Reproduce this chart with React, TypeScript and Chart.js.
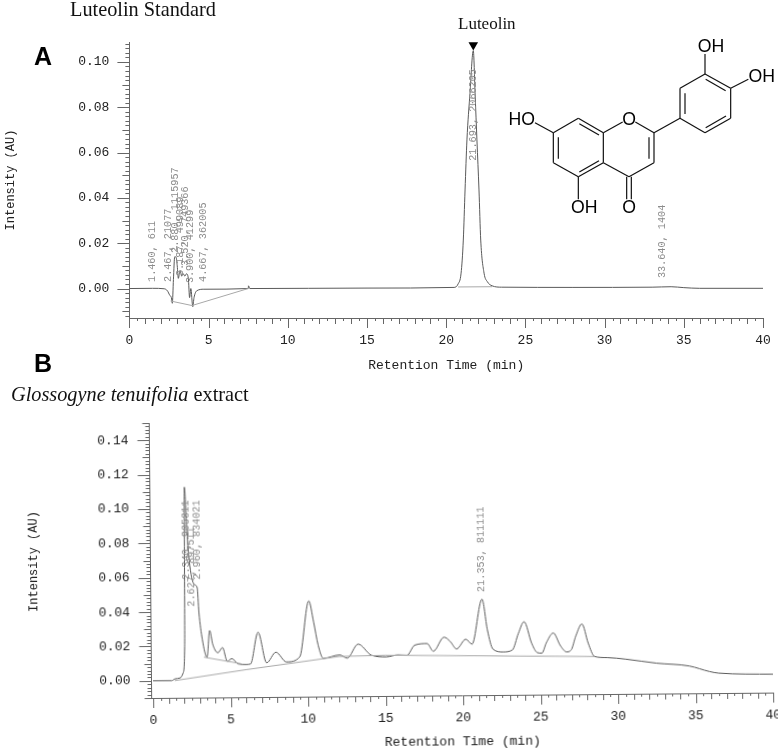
import React, { useEffect, useRef } from "react";
import { Chart, registerables } from "chart.js";

Chart.register(...registerables);

// ---------- Panel A: Luteolin standard ----------
const timeA = [0, 1.46, 2.2, 2.4, 2.55, 2.65, 2.71, 2.78, 2.86, 2.95, 3.02, 3.09, 3.2, 3.3, 3.4, 3.5, 3.6, 3.72, 3.8, 3.88, 4.0, 4.08, 4.25, 4.7, 7.5, 7.52, 7.6, 15, 20.5, 20.75, 20.94, 21.08, 21.19, 21.31, 21.5, 21.71, 21.83, 21.94, 22.07, 22.18, 22.39, 22.6, 22.9, 23.5, 28, 33, 34.2, 35, 36, 40];
const valueA = [0, 0.0001, -0.0001, -0.001, -0.003, -0.004, -0.0065, 0.004, 0.014, 0.0138, 0.01, 0.0045, 0.008, 0.0055, 0.0065, 0.0055, 0.0065, 0.0045, -0.004, 0, -0.008, -0.004, -0.001, -0.0003, 0, 0.0012, 0, 0.0002, 0.0005, 0.002, 0.0068, 0.0214, 0.0435, 0.0656, 0.086, 0.105, 0.085, 0.0656, 0.0435, 0.0214, 0.0068, 0.003, 0.0012, 0.0006, 0.0005, 0.0006, 0.0008, 0.0004, 0.0001, 0.0001];
const baseTimeA = [2.6, 3.95, 7.5];
const baseValueA = [-0.0055, -0.0075, 0];
const base2TimeA = [20.75, 22.9];
const base2ValueA = [0.0007, 0.0008];
const arrowTimeA = [21.71];
const arrowValueA = [0.1075];
const labelTextA = ["1.460, 611", "2.467, 21077", "2.880, 1115957", "3.187, 499089", "3.520, 749366", "3.900, 41299", "4.667, 362005", "21.693, 2066205", "33.640, 1404"];
const labelTimeA = [1.46, 2.467, 2.88, 3.19, 3.5, 3.87, 4.667, 21.68, 33.65];
const labelValueA = [0.0029, 0.0029, 0.0157, 0.0055, 0.01, 0.0024, 0.0029, 0.0564, 0.0046];

// ---------- Panel B: Glossogyne tenuifolia extract ----------
const timeB = [0, 1.2, 1.42, 1.74, 1.95, 2.06, 2.13, 2.25, 2.4, 2.7, 2.9, 3.0, 3.2, 3.5, 3.68, 3.87, 4.2, 4.5, 4.8, 5.1, 5.5, 6.0, 6.3, 6.8, 7.34, 7.94, 8.62, 9.48, 10.09, 10.39, 10.67, 11.0, 12.06, 12.54, 13.25, 14.1, 15.06, 15.8, 16.4, 16.9, 17.7, 18.1, 18.8, 19.2, 19.6, 20.2, 20.6, 21.27, 21.6, 21.95, 22.6, 23.2, 23.6, 23.97, 24.45, 24.8, 25.1, 25.4, 25.85, 26.3, 26.7, 27, 27.3, 27.7, 28.1, 28.5, 29.3, 30.5, 32.5, 34.6, 35.9, 36.5, 40];
const valueB = [0, 0, 0.001, 0.0015, 0.0045, 0.02, 0.1125, 0.09, 0.07, 0.056, 0.054, 0.0395, 0.024, 0.0134, 0.029, 0.021, 0.016, 0.019, 0.011, 0.0125, 0.0094, 0.009, 0.0093, 0.0277, 0.0099, 0.016, 0.0103, 0.0132, 0.0457, 0.0335, 0.02, 0.0122, 0.0141, 0.0122, 0.0203, 0.0138, 0.0127, 0.0138, 0.0136, 0.0194, 0.0203, 0.0158, 0.0239, 0.0213, 0.017, 0.0226, 0.0197, 0.0458, 0.0279, 0.0167, 0.015, 0.0161, 0.0258, 0.0325, 0.0199, 0.0145, 0.0141, 0.0202, 0.0258, 0.0184, 0.0147, 0.0159, 0.0239, 0.0309, 0.0196, 0.0119, 0.0112, 0.0102, 0.0077, 0.0059, 0.0026, 0.0016, 0.0007];
const baseTimeB = [1.4, 6, 12, 15, 28.5];
const baseValueB = [0, 0.006, 0.0132, 0.0137, 0.0119];
const base2TimeB = [3.3, 5.7];
const base2ValueB = [0.0135, 0.0095];
const labelTextB = ["2.340, 905311", "2.627, 897511", "2.960, 834021", "21.353, 811111"];
const labelTimeB = [2.2, 2.52, 2.9, 21.27];
const labelValueB = [0.0587, 0.043, 0.0587, 0.05];

const zip = (xs: number[], ys: number[]) => xs.map((x, i) => ({ x, y: ys[i] }));
const MONO = "'Liberation Mono', monospace";
const near = (v: number, step: number) => Math.abs(v / step - Math.round(v / step)) < 1e-6;

function rulerPlugin(major: number, mid: number) {
  return {
    id: "ruler",
    afterDraw(chart: any) {
      const { ctx, scales } = chart;
      ctx.save();
      ctx.strokeStyle = "#666";
      ctx.lineWidth = 1;
      ctx.beginPath();
      for (const t of scales.x.ticks) {
        const px = Math.round(scales.x.getPixelForValue(t.value)) + 0.5;
        const len = near(t.value, 5) ? 10 : near(t.value, 1) ? 6 : 3;
        ctx.moveTo(px, scales.x.top);
        ctx.lineTo(px, scales.x.top + len);
      }
      for (const t of scales.y.ticks) {
        const py = Math.round(scales.y.getPixelForValue(t.value)) + 0.5;
        const len = near(t.value, major) ? 12 : near(t.value, mid) ? 7 : 4;
        ctx.moveTo(scales.y.right, py);
        ctx.lineTo(scales.y.right - len, py);
      }
      ctx.stroke();
      ctx.restore();
    },
  };
}

function peakLabelPlugin(texts: string[], times: number[], values: number[]) {
  return {
    id: "peakLabels",
    afterDatasetsDraw(chart: any) {
      const { ctx, scales } = chart;
      ctx.save();
      ctx.font = `10.2px ${MONO}`;
      ctx.fillStyle = "#8c8c8c";
      ctx.textAlign = "left";
      ctx.textBaseline = "middle";
      texts.forEach((text, i) => {
        ctx.save();
        ctx.translate(scales.x.getPixelForValue(times[i]), scales.y.getPixelForValue(values[i]));
        ctx.rotate(-Math.PI / 2);
        ctx.fillText(text, 0, 0);
        ctx.restore();
      });
      ctx.restore();
    },
  };
}

function useChromatogram(cfg: any) {
  const ref = useRef<HTMLCanvasElement>(null);
  useEffect(() => {
    const chart = new Chart(ref.current as HTMLCanvasElement, {
      type: "line",
      data: { datasets: cfg.datasets },
      options: {
        animation: false,
        responsive: false,
        layout: { padding: { left: 0, top: cfg.top, right: cfg.right, bottom: 0 } },
        plugins: { legend: { display: false }, tooltip: { enabled: false } },
        elements: { point: { radius: 0 }, line: { tension: 0 } },
        scales: {
          x: {
            type: "linear",
            min: cfg.xMin,
            max: 40,
            grid: { display: false },
            border: { color: "#666", width: 1 },
            afterFit: (s: any) => { s.height = cfg.xHeight; s.paddingLeft = 0; s.paddingRight = 0; },
            ticks: {
              stepSize: 0.5,
              autoSkip: false,
              maxRotation: 0,
              includeBounds: false,
              padding: cfg.xPad,
              color: "#222",
              font: { family: MONO, size: 13 },
              callback: (v: any) => (near(Number(v), 5) ? String(Math.round(Number(v))) : ""),
            },
            title: { display: true, text: "Retention Time (min)", color: "#222", font: { family: MONO, size: 13 }, padding: { top: 0, bottom: cfg.xTitlePad } },
          },
          y: {
            type: "linear",
            min: cfg.yMin,
            max: cfg.yMax,
            grid: { display: false },
            border: { color: "#666", width: 1 },
            afterFit: (s: any) => { s.width = cfg.yWidth; s.paddingTop = 0; s.paddingBottom = 0; },
            ticks: {
              stepSize: 0.002,
              autoSkip: false,
              includeBounds: false,
              padding: cfg.yPad,
              color: "#222",
              font: { family: MONO, size: 13 },
              callback: (v: any) => (near(Number(v), 0.02) ? Number(v).toFixed(2) : ""),
            },
            title: { display: true, text: "Intensity (AU)", color: "#222", font: { family: MONO, size: 12 }, padding: { top: cfg.yTitlePad, bottom: 0 } },
          },
        },
      },
      plugins: [rulerPlugin(0.02, 0.01), peakLabelPlugin(cfg.labelText, cfg.labelTime, cfg.labelValue)],
    } as any);
    return () => chart.destroy();
  }, []);
  return ref;
}

const traceStyle = { borderColor: "#5a5a5a", borderWidth: 1, pointRadius: 0, cubicInterpolationMode: "monotone" };
const baseStyle = { borderColor: "#a8a8a8", borderWidth: 1, pointRadius: 0 };

const bonds = [
  [340, 398, 415, 355], [415, 355, 490, 398], [490, 398, 490, 488], [490, 488, 415, 530], [415, 530, 340, 488], [340, 488, 340, 398],
  [355, 412, 355, 476], [418, 371, 477, 405], [477, 482, 418, 516],
  [490, 398, 548, 366], [586, 366, 642, 398], [642, 398, 642, 488], [627, 412, 627, 476], [642, 488, 567, 530], [567, 530, 490, 488],
  [560, 530, 560, 598], [574, 530, 574, 598], [415, 530, 415, 598], [340, 398, 285, 368], [642, 398, 720, 355],
  [720, 355, 720, 265], [735, 342, 735, 280], [720, 265, 795, 222], [795, 222, 872, 265], [797, 238, 857, 272], [872, 265, 872, 355],
  [872, 355, 795, 398], [858, 348, 797, 383], [795, 398, 720, 355], [795, 222, 795, 162], [872, 265, 925, 238],
];
const atoms: [string, number, number][] = [
  ["HO", 245, 376], ["O", 567, 376], ["OH", 813, 156], ["OH", 965, 246], ["OH", 433, 639], ["O", 567, 639],
];

const serif: React.CSSProperties = { position: "absolute", fontFamily: "'Liberation Serif', serif", fontSize: 20.3, color: "#111", whiteSpace: "nowrap", lineHeight: "24px" };
const bold: React.CSSProperties = { position: "absolute", fontFamily: "'Liberation Sans', sans-serif", fontWeight: 700, fontSize: 25, color: "#000", lineHeight: "28px" };

export default function App() {
  const refA = useChromatogram({
    datasets: [
      { ...baseStyle, data: zip(baseTimeA, baseValueA) },
      { ...baseStyle, data: zip(base2TimeA, base2ValueA) },
      { ...traceStyle, data: zip(timeA, valueA) },
      { data: zip(arrowTimeA, arrowValueA), showLine: false, pointStyle: "triangle", rotation: 180, pointRadius: 5.5, pointBackgroundColor: "#000", pointBorderColor: "#000", borderWidth: 0 },
    ],
    top: 42, right: 15, xMin: 0, xHeight: 62, xPad: 7, xTitlePad: 7, yMin: -0.013, yMax: 0.1088, yWidth: 129.4, yPad: 12, yTitlePad: 4, 
    labelText: labelTextA, labelTime: labelTimeA, labelValue: labelValueA,
  });
  const refB = useChromatogram({
    datasets: [
      { ...baseStyle, data: zip(baseTimeB, baseValueB) },
      { ...baseStyle, data: zip(base2TimeB, base2ValueB) },
      { ...traceStyle, data: zip(timeB, valueB) },
    ],
    top: 23, right: 5, xMin: -0.1, xHeight: 54, xPad: 7, xTitlePad: 0, yMin: -0.01, yMax: 0.15, yWidth: 151.5, yPad: 13, yTitlePad: 28,
    labelText: labelTextB, labelTime: labelTimeB, labelValue: labelValueB,
  });
  return (
    <div style={{ position: "absolute", left: 0, top: 0, width: 778, height: 752, overflow: "hidden", background: "#fff" }}>
      <canvas ref={refA} width={778} height={380} style={{ position: "absolute", left: 0, top: 0 }} />
      <canvas ref={refB} width={778} height={352} style={{ position: "absolute", left: 0, top: 400, transform: "rotate(-0.5deg)", transformOrigin: "153px 281px" }} />
      <div style={{ ...serif, left: 70, top: -3 }}>Luteolin Standard</div>
      <div style={{ ...serif, left: 458, top: 12, fontSize: 17 }}>Luteolin</div>
      <div style={{ ...serif, left: 11, top: 382 }}><i>Glossogyne tenuifolia</i> extract</div>
      <div style={{ ...bold, left: 34, top: 42 }}>A</div>
      <div style={{ ...bold, left: 34, top: 349 }}>B</div>
      <svg width={338} height={380} viewBox="0 0 1014 1140" style={{ position: "absolute", left: 440, top: 0 }}>
        {bonds.map((b, i) => (
          <line key={i} x1={b[0]} y1={b[1]} x2={b[2]} y2={b[3]} stroke="#111" strokeWidth={3.6} />
        ))}
        {atoms.map(([t, x, y], i) => (
          <text key={i} x={x} y={y} textAnchor="middle" fontFamily="'Liberation Sans', sans-serif" fontSize={53} fill="#000">{t}</text>
        ))}
      </svg>
    </div>
  );
}
